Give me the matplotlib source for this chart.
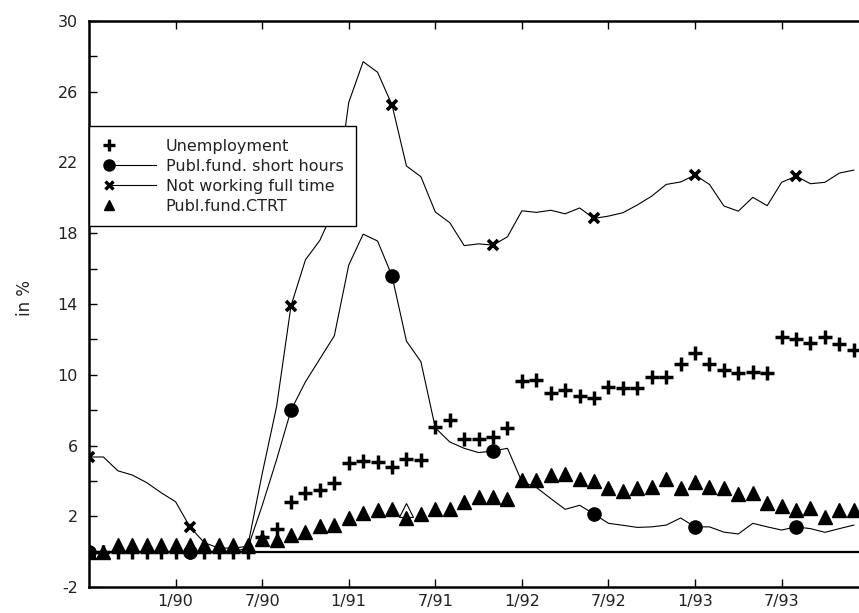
import numpy as np
import matplotlib
matplotlib.use("Agg")
import matplotlib.pyplot as plt
from matplotlib.lines import Line2D
from matplotlib.legend_handler import HandlerLine2DCompound

# month index: 0 = 7/89
months = np.arange(54)

unemployment = [0.0] * 12 + [
    0.84, 1.3, 2.82, 3.33, 3.48, 3.9, 5.03, 5.14, 5.08, 4.77, 5.24, 5.18,
    7.03, 7.44, 6.35, 6.37, 6.5, 6.97, 9.66, 9.7, 8.95, 9.14, 8.8, 8.66,
    9.29, 9.23, 9.23, 9.85, 9.85, 10.59, 11.25, 10.6, 10.27, 10.08, 10.14, 10.12,
    12.15, 12.02, 11.81, 12.15, 11.76, 11.4]

short_hours = [0.0] * 11 + [0.2] + [
    2.6, 5.2, 8.0, 9.6, 10.9, 12.2, 16.2, 17.95, 17.56, 15.58, 11.9, 10.74,
    7.0, 6.2, 5.84, 5.6, 5.69, 5.84, 3.95, 3.63, 3.0, 2.39, 2.62, 2.13,
    1.6, 1.49, 1.37, 1.4, 1.5, 1.9, 1.4, 1.4, 1.1, 1.0, 1.6, 1.4,
    1.22, 1.4, 1.3, 1.09, 1.3, 1.5]

not_full_time = [
    5.35, 5.35, 4.57, 4.33, 3.9, 3.33, 2.82, 1.39, 0.5, 0.2, 0.2, 0.3,
    4.4, 8.2, 13.9, 16.5, 17.6, 19.4, 25.4, 27.7, 27.1, 25.25, 21.8, 21.2,
    19.2, 18.6, 17.3, 17.4, 17.33, 17.8, 19.27, 19.18, 19.3, 19.1, 19.43, 18.84,
    18.97, 19.16, 19.6, 20.1, 20.76, 20.9, 21.29, 20.76, 19.54, 19.25, 20.03, 19.56,
    20.88, 21.23, 20.8, 20.88, 21.4, 21.57]

ctrt = [0.0, 0.0] + [0.4] * 10 + [
    0.7, 0.66, 0.94, 1.13, 1.45, 1.5, 1.88, 2.17, 2.35, 2.39, 1.88, 2.1,
    2.43, 2.43, 2.82, 3.1, 3.07, 2.97, 4.05, 4.05, 4.33, 4.39, 4.1, 4.0,
    3.58, 3.44, 3.58, 3.67, 4.09, 3.61, 3.95, 3.64, 3.58, 3.24, 3.3, 2.77,
    2.58, 2.35, 2.45, 1.97, 2.35, 2.35]

ctrt_hollow_month = [22]
ctrt_hollow_value = [2.35]

tick_labels = ["1/90", "7/90", "1/91", "7/91", "1/92", "7/92", "1/93", "7/93"]
ylabels = [-2, 2, 6, 10, 14, 18, 22, 26, 30]


def label_to_index(lbl):
    m, y = lbl.split("/")
    return (int(y) - 89) * 12 + (int(m) - 7)


tick_pos = [label_to_index(l) for l in tick_labels]

plt.rcParams['font.family'] = ['DejaVu Sans']

W, H = 859, 613
fig = plt.figure(figsize=(W / 100, H / 100), dpi=100)
left, right, top, bottom = 89, 859, 21, 587
ax = fig.add_axes([left / W, (H - bottom) / H, (right - left) / W, (bottom - top) / H])

px_per_month = 14.43
ax.set_xlim(0, (right - left) / px_per_month)
ax.set_ylim(-2, 30)

ax.axhline(0, color='black', lw=1.6, zorder=1)

every = list(range(0, 54, 7))
ax.plot(months, not_full_time, color='black', lw=0.8, marker='x', ms=7, mew=2.6,
        markevery=every, zorder=3)
ax.plot(months, short_hours, color='black', lw=0.8, marker='o', ms=9.5,
        markevery=every, zorder=3)
ax.plot(months, unemployment, ls='none', color='black', marker='+', ms=10, mew=2.5, zorder=4)
ax.plot(months, ctrt, ls='none', color='black', marker='^', ms=9.5, zorder=4)
ax.plot(ctrt_hollow_month, ctrt_hollow_value, ls='none', marker='^', ms=9.5,
        mfc='white', mec='black', mew=0.8, zorder=3)

for s in ['left', 'bottom', 'top']:
    ax.spines[s].set_linewidth(1.8)
ax.spines['right'].set_visible(False)

ax.set_xticks(tick_pos)
ax.set_xticklabels(tick_labels)
ax.set_yticks(ylabels)
ax.set_yticklabels([str(v) for v in ylabels])
ax.set_yticks(np.arange(-2, 31, 2), minor=True)
ax.tick_params(axis='both', which='both', direction='in', top=True, right=False,
               length=6, width=1.0, labelsize=11.5, colors='black', labelcolor='#222222')
ax.tick_params(axis='y', pad=8)
ax.tick_params(axis='x', pad=5)

fig.text(25 / W, 1 - 298 / H, "in %", rotation=90, ha='center', va='center',
         fontsize=12, color='#222222')


class LeftMarkerHandler(HandlerLine2DCompound):
    def get_xdata(self, legend, xdescent, ydescent, width, height, fontsize):
        x0 = -xdescent + 0.45 * fontsize
        x1 = -xdescent + width
        return np.array([x0, x1]), np.array([x0])


handles = [
    Line2D([], [], ls='none', color='black', marker='+', ms=8, mew=2.4),
    Line2D([], [], color='black', lw=0.8, marker='o', ms=8),
    Line2D([], [], color='black', lw=0.8, marker='x', ms=6, mew=2.4),
    Line2D([], [], ls='none', color='black', marker='^', ms=7.5),
]
names = ["Unemployment", "Publ.fund. short hours", "Not working full time", "Publ.fund.CTRT"]
leg = ax.legend(handles, names, loc='upper left',
                bbox_to_anchor=(0, 1 - (126 - top) / (bottom - top)),
                bbox_transform=ax.transAxes,
                handler_map={h: LeftMarkerHandler(numpoints=1) for h in handles},
                fontsize=11.5, frameon=True, fancybox=False, framealpha=1,
                edgecolor='black', borderaxespad=0, borderpad=0.8,
                handlelength=3.4, handletextpad=0.6, labelspacing=0.31,
                numpoints=1)
leg.get_frame().set_linewidth(1.0)
for t in leg.get_texts():
    t.set_color('#222222')

fig.savefig("out.png", dpi=100)
